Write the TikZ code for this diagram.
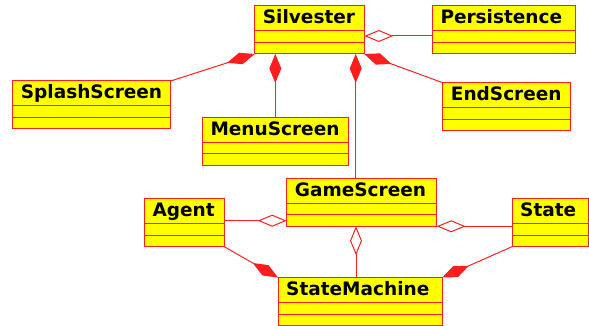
\documentclass[tikz,border=0pt]{standalone}
\usepackage{fontspec}
\setmainfont{DejaVu Sans}
\usetikzlibrary{arrows.meta,calc}
\definecolor{umlred}{RGB}{255,30,30}
\definecolor{umlyellow}{RGB}{255,255,0}
\tikzset{
  cls/.style={draw=umlred, fill=umlyellow, line width=1pt, anchor=north west,
    minimum height=48pt, inner sep=0pt, outer sep=0pt},
  ttl/.style={anchor=base west, font=\bfseries\fontsize{18.5}{20}\selectfont, inner sep=0pt},
  sepline/.style={draw=umlred, line width=1pt},
  conn/.style={draw=umlred, line width=1pt},
  comp/.style={conn, -{Diamond[length=29pt,width=12pt,fill=umlred]}},
  agg/.style={conn, -{Diamond[length=29pt,width=12pt,open,fill=white]}},
}
\newcommand\umlcls[5]{%
  \node[cls, minimum width=#4pt] (#1) at (#2,#3) {};
  \node[ttl] (#1-t) at ($(#1.north west)+(8,18)$) {#5};
  \draw[sepline] ($(#1.north west)+(0,25)$) -- ($(#1.north east)+(0,25)$);
  \draw[sepline] ($(#1.north west)+(0,36.5)$) -- ($(#1.north east)+(0,36.5)$);
}
\begin{document}
\begin{tikzpicture}[x=1pt,y=-1pt]
\useasboundingbox (0,0) rectangle (589,326);
\umlcls{silv}{254.7}{6}{109.6}{Silvester}
\umlcls{pers}{432.3}{6}{143.4}{Persistence}
\umlcls{splash}{12.7}{81}{158}{SplashScreen}
\umlcls{menu}{202.3}{117.3}{146}{MenuScreen}
\umlcls{endscr}{442.7}{82.7}{127.3}{EndScreen}
\umlcls{game}{286.7}{178.3}{150}{GameScreen}
\umlcls{agent}{144.3}{198.7}{80}{Agent}
\umlcls{sm}{278}{277.5}{164.3}{StateMachine}
\umlcls{state}{512}{198.7}{76.3}{State}

\draw[agg] ($(pers.north west)+(0,30)$) -- ($(silv.north east)+(0,30)$);
\draw[comp] (splash.north east) -- (silv.south west);
\draw[comp] (menu.north) -- (menu.north |- silv.south);
\draw[comp] ($(game.north west)+(69,0)$) -- ($(silv.south west)+(101,0)$);
\draw[comp] (endscr.north west) -- (silv.south east);
\draw[agg] ($(agent.north east)+(0,22)$) -- ($(game.north west)+(0,42.4)$);
\draw[agg] ($(state.north west)+(0,27.6)$) -- (game.south east);
\draw[agg] ($(sm.north west)+(78,0)$) -- ($(game.south west)+(69.3,0)$);
\draw[comp] (agent.south east) -- (sm.north west);
\draw[comp] (state.south west) -- (sm.north east);
\end{tikzpicture}
\end{document}
